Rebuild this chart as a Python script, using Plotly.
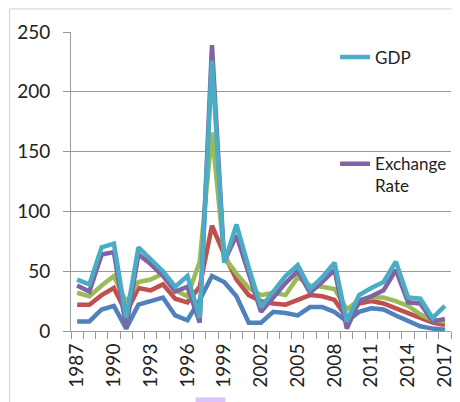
import plotly.graph_objects as go

years = list(range(1987, 2018))

series1 = [8, 8, 18, 21, 2, 22, 25, 28, 13, 9, 26, 46, 41, 29, 7, 7, 16, 15, 13, 20, 20, 16, 8, 16, 19, 18, 13, 8, 4, 2, 1]
series2 = [22, 22, 30, 36, 15, 36, 34, 39, 27, 24, 37, 88, 64, 43, 30, 25, 23, 22, 26, 30, 29, 26, 11, 23, 25, 23, 19, 15, 11, 7, 5]
series3 = [32, 29, 38, 46, 24, 41, 43, 48, 34, 29, 58, 166, 62, 48, 36, 30, 32, 30, 45, 38, 37, 35, 18, 26, 28, 28, 25, 21, 14, 9, 8]
exchange_rate = [38, 33, 64, 66, 3, 64, 56, 46, 33, 37, 7, 239, 58, 80, 48, 16, 28, 40, 50, 32, 41, 51, 2, 25, 29, 34, 51, 24, 23, 8, 10]
gdp = [43, 39, 70, 73, 11, 70, 60, 50, 37, 46, 11, 226, 57, 89, 53, 20, 33, 46, 55, 35, 45, 57, 8, 30, 36, 41, 58, 28, 27, 11, 21]

tick_years = [1987, 1990, 1993, 1996, 1999, 2002, 2005, 2008, 2011, 2014, 2017]

FONT = "Lato"
LW = 4.5

fig = go.Figure()
fig.add_trace(go.Scatter(x=years, y=series1, mode="lines", name="Series 1",
                         line=dict(color="#4F81BD", width=LW), showlegend=False))
fig.add_trace(go.Scatter(x=years, y=series2, mode="lines", name="Series 2",
                         line=dict(color="#C0504D", width=LW), showlegend=False))
fig.add_trace(go.Scatter(x=years, y=series3, mode="lines", name="Series 3",
                         line=dict(color="#9BBB59", width=LW), showlegend=False))
fig.add_trace(go.Scatter(x=years, y=exchange_rate, mode="lines", name="Exchange<br>Rate",
                         line=dict(color="#8064A2", width=LW), legend="legend2"))
fig.add_trace(go.Scatter(x=years, y=gdp, mode="lines", name="GDP",
                         line=dict(color="#4BACC6", width=LW), legend="legend"))

# the page body adds an 8px offset, so the figure is 8px smaller than the window
fig.update_layout(
    width=452, height=394,
    margin=dict(l=63, r=5, t=24, b=71),
    paper_bgcolor="white", plot_bgcolor="white",
    font=dict(family=FONT, size=19, color="#222222"),
    legend=dict(x=0.695, y=0.975, xanchor="left", yanchor="top",
                bgcolor="rgba(0,0,0,0)", font=dict(size=17, color="#222222"),
                valign="top", itemwidth=30),
    legend2=dict(x=0.695, y=0.618, xanchor="left", yanchor="top",
                 bgcolor="rgba(0,0,0,0)", font=dict(size=17, color="#222222"),
                 valign="top", itemwidth=30),
    xaxis=dict(
        range=[1986.5, 2017.5],
        tickmode="array", tickvals=tick_years, ticktext=[str(y) for y in tick_years],
        tickangle=-90, ticks="", showgrid=False,
        showline=True, linecolor="#9a9a9a", linewidth=1,
        minor=dict(ticks="outside", tick0=1986.5, dtick=1, ticklen=7,
                   tickcolor="#9a9a9a", showgrid=False),
        tickfont=dict(size=19, family=FONT, color="#222222"),
        ticklabelstandoff=4,
        zeroline=False,
    ),
    yaxis=dict(
        range=[0, 250], dtick=50, tick0=0,
        showgrid=True, gridcolor="#9a9a9a", gridwidth=1,
        showline=True, linecolor="#9a9a9a", linewidth=1,
        ticks="outside", ticklen=7, tickcolor="#9a9a9a",
        tickfont=dict(size=19, family=FONT, color="#222222"),
        ticklabelstandoff=9,
        zeroline=False,
    ),
    shapes=[
        dict(type="rect", xref="paper", yref="paper",
             x0=-0.1615, x1=1.005, y0=-0.35, y1=1.077,
             line=dict(color="#d0d0d0", width=1), fillcolor="rgba(0,0,0,0)", layer="below"),
        dict(type="rect", xref="paper", yref="paper",
             x0=0.328, x1=0.406, y0=-0.26, y1=-0.222,
             line=dict(width=0), fillcolor="#dcc3fb"),
    ],
)

fig.write_html("out.html")
